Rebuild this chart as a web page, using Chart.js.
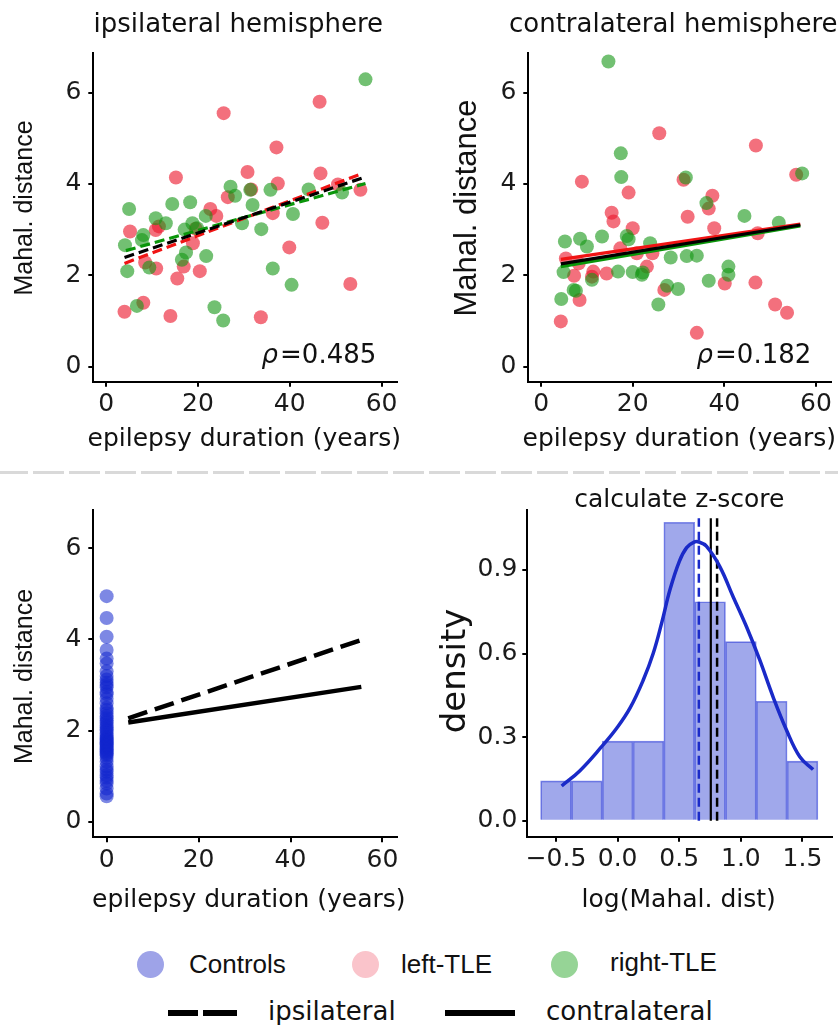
<!DOCTYPE html>
<html>
<head>
<meta charset="utf-8">
<script src="https://cdn.jsdelivr.net/npm/chart.js@4.4.1/dist/chart.umd.min.js"></script>
<style>
body { margin: 0; background: #fff; }
#page { position: relative; width: 838px; height: 1025px; overflow: hidden; background: #fff; }
.panel { position: absolute; }
.sep { position: absolute; left: 0; top: 471px; width: 838px; height: 3px;
  background: repeating-linear-gradient(to right, #d9d9d9 0 31px, transparent 31px 36px);
  background-position: -3px 0; }
.dot { position: absolute; width: 27px; height: 27px; border-radius: 50%; }
.bar { position: absolute; height: 6px; background: #000; }
.lab { position: absolute; white-space: nowrap; line-height: 26px; font-size: 26px; color: #111; }
.sans { font-family: 'Liberation Sans', Arial, sans-serif; }
.dv { font-family: 'DejaVu Sans', sans-serif; }
</style>
</head>
<body>
<div id="page">
  <div class="panel" style="left:0;top:0"><canvas id="ipsi" width="419" height="462"></canvas></div>
  <div class="panel" style="left:419px;top:0"><canvas id="contra" width="419" height="462"></canvas></div>
  <div class="sep"></div>
  <div class="panel" style="left:0;top:462px"><canvas id="controls" width="419" height="460"></canvas></div>
  <div class="panel" style="left:419px;top:462px"><canvas id="zscore" width="419" height="460"></canvas></div>

  <!-- legend -->
  <div class="dot" style="left:137px;top:951px;background:#9ea3e8"></div>
  <div class="lab sans" style="left:189px;top:951px">Controls</div>
  <div class="dot" style="left:352px;top:951px;background:#fac4cb"></div>
  <div class="lab sans" style="left:401px;top:951px">left-TLE</div>
  <div class="dot" style="left:551px;top:951px;background:#96d496"></div>
  <div class="lab sans" style="left:610px;top:949px">right-TLE</div>
  <div class="bar" style="left:168px;top:1010px;width:30px"></div>
  <div class="bar" style="left:203px;top:1010px;width:34px"></div>
  <div class="lab dv" style="left:268px;top:998px">ipsilateral</div>
  <div class="bar" style="left:445px;top:1010px;width:70px"></div>
  <div class="lab dv" style="left:546px;top:998px">contralateral</div>
</div>

<script>
// ---- ipsilateral hemisphere (epilepsy duration vs Mahal. distance)
var ipsiLeftDur = [4.0, 5.2, 8.1, 8.5, 10.9, 10.8, 11.5, 14.0, 15.2, 15.5, 16.9, 18.9, 19.5, 20.4, 22.7, 24.0,
  25.6, 26.5, 30.8, 31.6, 33.7, 36.3, 37.4, 37.1, 39.9, 46.5, 46.7, 47.1, 50.5, 53.2, 55.4];
var ipsiLeftMahal = [1.20, 2.96, 1.40, 2.28, 2.15, 2.99, 3.07, 1.11, 4.14, 1.93, 2.19, 2.70, 3.02, 2.09, 3.45, 3.30,
  5.55, 3.71, 4.26, 3.88, 1.08, 3.36, 4.01, 4.80, 2.61, 5.80, 4.23, 3.15, 3.99, 1.81, 3.87];
var ipsiRightDur = [4.1, 5.0, 4.6, 6.7, 8.1, 7.8, 9.4, 10.8, 13.0, 14.4, 16.5, 17.4, 17.1, 18.3, 18.8, 19.8, 21.7,
  21.8, 23.6, 25.5, 27.1, 28.1, 29.6, 31.4, 31.9, 33.8, 35.8, 36.3, 40.7, 40.4, 44.1, 51.4, 56.5];
var ipsiRightMahal = [2.66, 3.45, 2.09, 1.33, 2.88, 2.77, 2.17, 3.25, 3.14, 3.56, 2.34, 2.50, 3.00, 3.60, 3.14, 3.03, 3.30,
  2.42, 1.30, 1.01, 3.94, 3.74, 3.14, 3.87, 3.54, 3.01, 3.87, 2.15, 3.34, 1.79, 3.88, 3.81, 6.29];
var ipsiFitLeftX = [4.0, 55.6], ipsiFitLeftY = [2.26, 4.22];
var ipsiFitRightX = [4.3, 56.5], ipsiFitRightY = [2.54, 4.01];
var ipsiFitAllX = [4.0, 56.4], ipsiFitAllY = [2.39, 4.15];
var ipsiRho = '0.485';

// ---- contralateral hemisphere
var contraLeftDur = [4.3, 5.4, 7.2, 8.4, 8.9, 8.2, 11.4, 11.1, 14.3, 15.4, 15.8, 17.3, 19.1, 20.0, 20.9, 23.1,
  24.3, 25.8, 26.9, 31.1, 32.0, 34.0, 36.6, 37.4, 37.8, 40.1, 46.8, 46.9, 47.3, 51.1, 53.7, 55.7];
var contraLeftMahal = [0.99, 2.37, 1.99, 1.46, 4.05, 2.26, 2.08, 1.97, 2.04, 3.37, 3.18, 2.59, 3.81, 3.03, 2.48, 2.19,
  2.48, 5.11, 1.68, 4.09, 3.28, 0.74, 3.46, 3.74, 3.03, 1.82, 1.84, 4.84, 2.92, 1.36, 1.18, 4.20];
var contraRightDur = [5.2, 4.4, 4.9, 7.1, 7.6, 8.5, 10.0, 11.1, 13.3, 14.7, 16.8, 17.4, 17.5, 18.7, 19.1, 20.0, 22.0,
  22.2, 23.8, 25.6, 27.5, 28.3, 29.9, 31.6, 31.8, 34.0, 36.1, 36.6, 40.9, 40.9, 44.4, 51.9, 57.0];
var contraRightMahal = [2.74, 1.48, 2.07, 1.68, 1.66, 2.80, 2.63, 1.90, 2.85, 6.68, 2.08, 4.67, 4.15, 2.86, 2.79, 2.07, 2.01,
  2.06, 2.70, 1.36, 1.77, 2.39, 1.70, 4.14, 2.42, 2.43, 3.58, 1.88, 2.19, 2.01, 3.30, 3.15, 4.23];
var contraFitLeftX = [4.3, 56.6], contraFitLeftY = [2.35, 3.12];
var contraFitRightX = [4.3, 56.6], contraFitRightY = [2.19, 3.08];
var contraFitAllX = [4.3, 56.6], contraFitAllY = [2.25, 3.10];
var contraRho = '0.182';

// ---- controls (duration 0) and the two fitted lines
var controlMahal = [4.95, 4.47, 4.06, 3.77, 3.58, 3.47, 3.30, 3.20, 3.12, 3.05, 3.00, 2.95, 2.85, 2.80, 2.70, 2.60,
  2.50, 2.45, 2.38, 2.32, 2.27, 2.22, 2.18, 2.12, 2.08, 2.03, 2.00, 1.95, 1.90, 1.86, 1.83, 1.80, 1.78, 1.75,
  1.72, 1.70, 1.67, 1.64, 1.61, 1.58, 1.55, 1.52, 1.49, 1.46, 1.40, 1.32, 1.22, 1.15, 1.10, 1.02, 0.97, 0.90,
  0.84, 0.73, 0.62, 0.56];
var ipsiLineX = [4.7, 55.4], ipsiLineY = [2.27, 3.99];
var contraLineX = [4.7, 55.4], contraLineY = [2.18, 2.96];

// ---- z-score histogram of log(Mahal. dist)
var binCenters = [-0.5, -0.25, 0.0, 0.25, 0.5, 0.75, 1.0, 1.25, 1.5];
var binDensity = [0.143, 0.143, 0.286, 0.286, 1.071, 0.786, 0.643, 0.429, 0.214];
var kdeX = [-0.454, -0.306, -0.13, -0.008, 0.1, 0.208, 0.289, 0.357, 0.424, 0.5, 0.56, 0.62, 0.66, 0.72,
  0.829, 0.937, 1.045, 1.153, 1.261, 1.37, 1.478, 1.586];
var kdeY = [0.125, 0.18, 0.266, 0.332, 0.404, 0.505, 0.601, 0.709, 0.828, 0.93, 0.98, 1.0, 1.0, 0.985,
  0.912, 0.804, 0.697, 0.577, 0.445, 0.326, 0.23, 0.184];
var controlMeanLog = 0.659, contraLog = 0.756, ipsiLog = 0.807, vlineTop = 1.085;

var red = 'rgba(235, 25, 45, 0.62)';
var green = 'rgba(20, 150, 20, 0.6)';
var blue = 'rgba(18, 38, 205, 0.55)';
var tickFont = { family: 'DejaVu Sans', size: 25 };
var tickColor = '#1a1a1a';

function pts(xs, ys) {
    return xs.map(function (x, i) { return { x: x, y: ys[i] }; });
}

function axis(min, max, step, size, pad, isX, fmt) {
    return {
        type: 'linear', min: min, max: max, offset: false,
        afterFit: function (s) { if (isX) { s.height = size; } else { s.width = size; } },
        ticks: { stepSize: step, includeBounds: false, autoSkip: false, maxRotation: 0,
            padding: pad, color: tickColor, font: tickFont, callback: fmt },
        grid: { drawOnChartArea: false, drawTicks: true, offset: false, tickLength: 5, color: '#000', lineWidth: 2 },
        border: { display: true, color: '#000', width: 2 }
    };
}

// draws titles and annotations as text
var textPlugin = {
    id: 'panelText',
    afterDraw: function (chart, args, opts) {
        var ctx = chart.ctx;
        (opts.items || []).forEach(function (t) {
            ctx.save();
            ctx.fillStyle = '#111';
            ctx.textAlign = t.align || 'center';
            ctx.textBaseline = t.baseline || 'alphabetic';
            ctx.translate(t.x, t.y);
            if (t.rotate) ctx.rotate(t.rotate);
            ctx.font = t.font;
            ctx.fillText(t.text, 0, 0);
            if (t.prefix) {
                var w = ctx.measureText(t.text).width;
                ctx.font = 'italic ' + t.font;
                ctx.fillText(t.prefix, -w - 2, 0);
            }
            ctx.restore();
        });
    }
};

function scatterSet(xs, ys, color) {
    return { type: 'scatter', data: pts(xs, ys), backgroundColor: color, borderWidth: 0, pointRadius: 7 };
}
function lineSet(xs, ys, color, width, dash, tension) {
    return { type: 'line', data: pts(xs, ys), borderColor: color, borderWidth: width, borderDash: dash || [],
        pointRadius: 0, fill: false, tension: tension || 0 };
}

var baseOpts = { responsive: false, animation: false, events: [] };

function durationPanel(id, title, set, rho, yTitleFont, yTitleX, layoutLeft, dash) {
    new Chart(document.getElementById(id), {
        type: 'scatter',
        data: {
            datasets: [
                lineSet(set.allX, set.allY, '#000', 3.2, dash),
                lineSet(set.rightX, set.rightY, '#0a960a', 3.2, dash),
                lineSet(set.leftX, set.leftY, '#f01414', 3.2, dash),
                scatterSet(set.rDur, set.rMahal, green),
                scatterSet(set.lDur, set.lMahal, red)
            ]
        },
        options: Object.assign({}, baseOpts, {
            layout: { padding: { top: 53.3, right: 419 - layoutLeft - 303.4, left: 0, bottom: 0 } },
            scales: {
                x: axis(-2.8, 63.3, 20, 80.3, 3, true),
                y: axis(-0.33, 6.86, 2, layoutLeft, 7, false)
            },
            plugins: {
                legend: { display: false }, tooltip: { enabled: false },
                panelText: { items: [
                    { text: title, x: layoutLeft + 145, y: 31.7, font: '26px "DejaVu Sans"' },
                    { text: 'Mahal. distance', x: yTitleX, y: 208, rotate: -Math.PI / 2, baseline: 'middle', font: yTitleFont },
                    { text: 'epilepsy duration (years)', x: layoutLeft + 151, y: 446, font: '25px "DejaVu Sans"' },
                    { text: '=' + rho, prefix: '\u03c1', x: layoutLeft + 283, y: 363, align: 'right', font: '26px "DejaVu Sans"' }
                ] }
            }
        }),
        plugins: [textPlugin]
    });
}

durationPanel('ipsi', 'ipsilateral hemisphere', {
    lDur: ipsiLeftDur, lMahal: ipsiLeftMahal, rDur: ipsiRightDur, rMahal: ipsiRightMahal,
    leftX: ipsiFitLeftX, leftY: ipsiFitLeftY, rightX: ipsiFitRightX, rightY: ipsiFitRightY,
    allX: ipsiFitAllX, allY: ipsiFitAllY
}, ipsiRho, '25px "Liberation Sans"', 25, 93.3, [10, 5]);

durationPanel('contra', 'contralateral hemisphere', {
    lDur: contraLeftDur, lMahal: contraLeftMahal, rDur: contraRightDur, rMahal: contraRightMahal,
    leftX: contraFitLeftX, leftY: contraFitLeftY, rightX: contraFitRightX, rightY: contraFitRightY,
    allX: contraFitAllX, allY: contraFitAllY
}, contraRho, '31px "Liberation Sans"', 48.5, 109.3, []);

// controls panel
new Chart(document.getElementById('controls'), {
    type: 'scatter',
    data: {
        datasets: [
            lineSet(ipsiLineX, ipsiLineY, '#000', 4.5, [20, 8]),
            lineSet(contraLineX, contraLineY, '#000', 4.5),
            scatterSet(controlMahal.map(function () { return 0; }), controlMahal, blue)
        ]
    },
    options: Object.assign({}, baseOpts, {
        layout: { padding: { top: 48, right: 22.3, left: 0, bottom: 0 } },
        scales: {
            x: axis(-2.9, 63.1, 20, 84.7, 3, true),
            y: axis(-0.34, 6.84, 2, 93.3, 7, false)
        },
        plugins: {
            legend: { display: false }, tooltip: { enabled: false },
            panelText: { items: [
                { text: 'Mahal. distance', x: 25, y: 214.5, rotate: -Math.PI / 2, baseline: 'middle', font: '25px "Liberation Sans"' },
                { text: 'epilepsy duration (years)', x: 248.8, y: 444.7, font: '25px "DejaVu Sans"' }
            ] }
        }
    }),
    plugins: [textPlugin]
});

// z-score panel
function fmt1(v) { return v.toFixed(1).replace('-', '\u2212'); }
new Chart(document.getElementById('zscore'), {
    type: 'bar',
    data: {
        datasets: [
            lineSet(kdeX, kdeY, '#1a2ac8', 3.5, [], 0.4),
            lineSet([controlMeanLog, controlMeanLog], [0, vlineTop], '#1a2ac8', 2.5, [9, 5]),
            lineSet([contraLog, contraLog], [0, vlineTop], '#000', 2.2),
            lineSet([ipsiLog, ipsiLog], [0, vlineTop], '#000', 2.5, [9, 5]),
            { type: 'bar', data: pts(binCenters, binDensity), backgroundColor: 'rgba(18, 38, 205, 0.4)',
              borderColor: 'rgba(30, 45, 215, 0.55)', borderWidth: 1, barPercentage: 1, categoryPercentage: 1, grouped: false }
        ]
    },
    options: Object.assign({}, baseOpts, {
        layout: { padding: { top: 48, right: 6.3, left: 0, bottom: 0 } },
        scales: {
            x: axis(-0.733, 1.737, 0.5, 85.3, 3, true, fmt1),
            y: axis(-0.057, 1.115, 0.3, 108.3, 5, false, fmt1)
        },
        plugins: {
            legend: { display: false }, tooltip: { enabled: false },
            panelText: { items: [
                { text: 'calculate z-score', x: 260.3, y: 44.7, font: '25px "DejaVu Sans"' },
                { text: 'density', x: 37, y: 209, rotate: -Math.PI / 2, baseline: 'middle', font: '34px "DejaVu Sans"' },
                { text: 'log(Mahal. dist)', x: 259.7, y: 444.7, font: '25px "DejaVu Sans"' }
            ] }
        }
    }),
    plugins: [textPlugin]
});
</script>
</body>
</html>
